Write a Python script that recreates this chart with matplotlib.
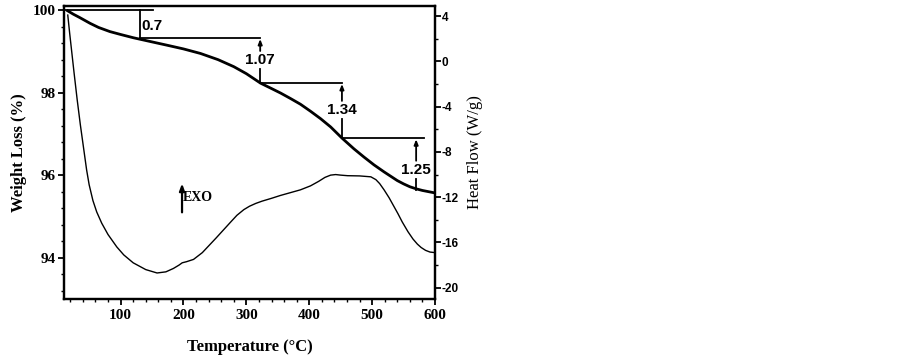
import matplotlib
matplotlib.use("Agg")
import matplotlib.pyplot as plt
from matplotlib.ticker import MultipleLocator

plt.rcParams["axes.unicode_minus"] = False

# ---- data ----
tga_temp = [14, 25, 35, 51.5, 65, 83, 100, 120.5, 150, 173.8, 200, 227, 255, 280, 300,
            322.6, 340, 354.5, 370, 386, 402, 418, 434, 452, 471, 487, 503, 519, 530,
            540, 550, 560, 570, 580, 590, 600]
tga_weight = [100.0, 99.90, 99.82, 99.68, 99.58, 99.48, 99.41, 99.33, 99.23, 99.15, 99.06,
              98.95, 98.80, 98.63, 98.46, 98.23, 98.10, 97.99, 97.86, 97.72, 97.55, 97.37,
              97.17, 96.90, 96.64, 96.44, 96.25, 96.08, 95.97, 95.87, 95.79, 95.72, 95.67,
              95.63, 95.60, 95.57]

dsc_temp = [16, 19, 22, 26, 31, 36, 42, 46, 50, 56, 62, 70, 80, 94, 105, 120, 140, 158,
            172, 184, 193, 198, 205, 216, 230, 252, 275, 285, 296, 305, 315, 325, 340, 354,
            370, 386, 402, 415, 425, 434, 442, 450, 461, 480, 498, 506, 512, 519, 527, 534,
            541, 548, 557, 565, 572, 578, 585, 592, 600]
dsc_flow = [4.1, 2.5, 1.0, -1.0, -3.4, -5.6, -8.0, -9.6, -10.9, -12.3, -13.3, -14.3, -15.3,
            -16.4, -17.1, -17.8, -18.4, -18.7, -18.6, -18.3, -18.0, -17.8, -17.7, -17.5,
            -16.9, -15.6, -14.2, -13.6, -13.1, -12.8, -12.55, -12.35, -12.1, -11.85,
            -11.6, -11.35, -11.0, -10.6, -10.25, -10.05, -10.0, -10.05, -10.1, -10.12,
            -10.2, -10.45, -10.8, -11.35, -12.05, -12.75, -13.45, -14.2, -15.05, -15.7,
            -16.15, -16.45, -16.7, -16.85, -16.9]

step_temps = [131, 322, 452, 570]          # where each loss is measured
step_levels = [100.0, 99.32, 98.23, 96.89, 95.64]
step_labels = ["0.7", "1.07", "1.34", "1.25"]

x_ticks = [100, 200, 300, 400, 500, 600]
w_ticks = [94, 96, 98, 100]
hf_ticks = [4, 0, -4, -8, -12, -16, -20]

# ---- figure ----
fig = plt.figure(figsize=(9.03, 3.57), dpi=100)
ax = fig.add_axes([64/903, 1-299/357, (435-64)/903, (299-6)/357])
ax2 = ax.twinx()

serif = ["Liberation Serif", "DejaVu Serif"]
sans = ["Liberation Sans", "DejaVu Sans"]

ax.plot(tga_temp, tga_weight, color="black", lw=2.0, solid_capstyle="butt",
        solid_joinstyle="round", zorder=3)
ax2.plot(dsc_temp, dsc_flow, color="black", lw=1.0, solid_joinstyle="round")

ax.set_xlim(10, 600)
ax.set_ylim(93.0, 100.1)
ax2.set_ylim(-21.0, 4.9)

ax.set_xticks(x_ticks)
ax.xaxis.set_minor_locator(MultipleLocator(20))
ax.set_yticks(w_ticks)
ax.yaxis.set_minor_locator(MultipleLocator(0.4))
ax2.set_yticks(hf_ticks)
ax2.yaxis.set_minor_locator(MultipleLocator(2))

for a in (ax, ax2):
    for s in a.spines.values():
        s.set_linewidth(1.6)
ax.tick_params(which="major", direction="out", length=4, width=1.3)
ax.tick_params(which="minor", direction="out", length=2.5, width=1.0)
ax2.tick_params(which="major", direction="out", length=4, width=1.3)
ax2.tick_params(which="minor", direction="out", length=2.5, width=1.0)

for lab in ax.get_xticklabels() + ax.get_yticklabels():
    lab.set_fontfamily(serif)
    lab.set_fontweight("bold")
    lab.set_fontsize(11)
for lab in ax2.get_yticklabels():
    lab.set_fontfamily(sans)
    lab.set_fontweight("bold")
    lab.set_fontsize(8.5)
ax.tick_params(axis="y", pad=2)
ax2.tick_params(axis="y", pad=1)

ax.set_xlabel("Temperature (°C)", fontfamily=serif, fontweight="bold", fontsize=12, labelpad=12)
ax.set_ylabel("Weight Loss (%)", fontfamily=serif, fontweight="bold", fontsize=12, labelpad=4)
ax2.set_ylabel("Heat Flow (W/g)", fontfamily=serif, fontsize=12, labelpad=6)

# ---- step annotations ----
lw = 1.3
ax.plot([10, 152], [step_levels[0]] * 2, color="black", lw=lw)
ax.plot([step_temps[0]] * 2, [step_levels[0], step_levels[1]], color="black", lw=lw)
ax.text(step_temps[0] + 2, 99.62, step_labels[0], fontfamily=sans, fontweight="bold",
        fontsize=11, ha="left", va="center")

ends = [None, 322, 452, 582]
label_y = [None, 98.79, 97.58, 96.13]
for i in range(1, 4):
    t = step_temps[i]
    top = step_levels[i]
    bot = step_levels[i + 1]
    ax.plot([step_temps[i - 1], ends[i]], [top, top], color="black", lw=lw)
    ax.text(t, label_y[i], step_labels[i], fontfamily=sans, fontweight="bold",
            fontsize=11, ha="center", va="center")
    ax.annotate("", xy=(t, top - 0.02), xytext=(t, label_y[i] + 0.22),
                arrowprops=dict(arrowstyle="-|>,head_length=0.3,head_width=0.12",
                                color="black", lw=lw, shrinkA=0, shrinkB=0))
    ax.plot([t, t], [label_y[i] - 0.22, bot], color="black", lw=lw)

# EXO arrow
ax.annotate("", xy=(197.7, 95.8), xytext=(197.7, 95.1),
            arrowprops=dict(arrowstyle="-|>,head_length=0.4,head_width=0.15",
                            color="black", lw=1.6, shrinkA=0, shrinkB=0))
ax.text(199, 95.46, "EXO", fontfamily=serif, fontweight="bold", fontsize=10,
        ha="left", va="center")

fig.savefig("out.png", dpi=100)
